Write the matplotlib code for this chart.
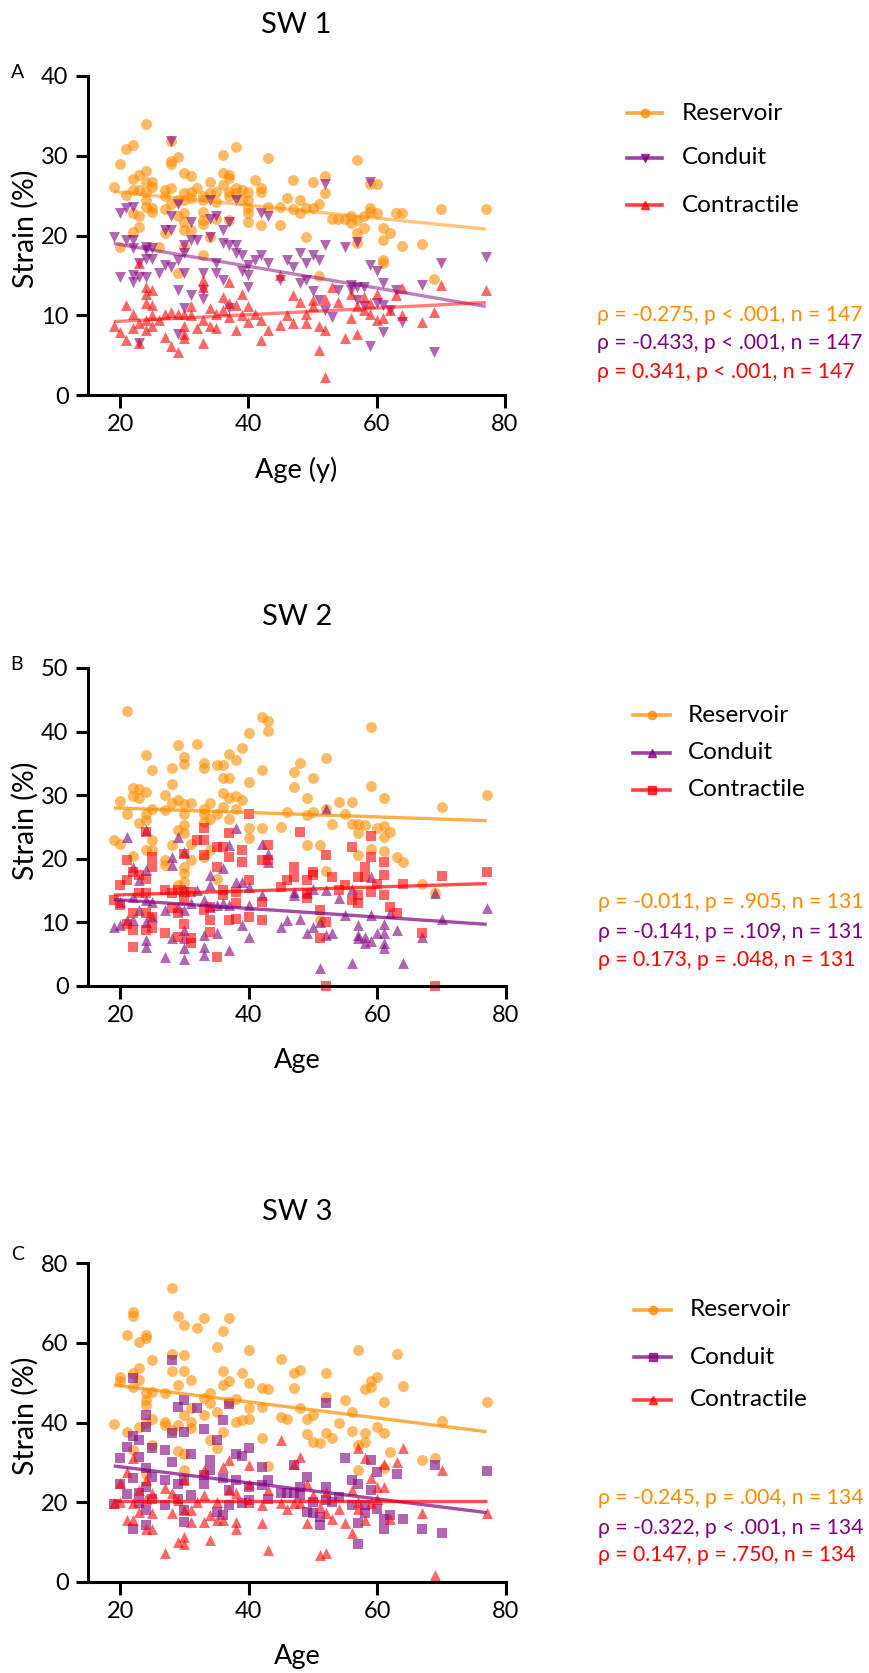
import numpy as np
import matplotlib
matplotlib.use("Agg")
import matplotlib.pyplot as plt
from matplotlib.lines import Line2D

plt.rcParams["font.family"] = ["Lato", "DejaVu Sans"]

# ---------------------------------------------------------------------------
# Data: (age, strain %) pairs per strain component and per sweep
# ---------------------------------------------------------------------------
sw1_reservoir = [
    (19, 26.1), (20, 29.0), (20, 18.6), (21, 30.9), (21, 25.1), (22, 31.3), (22, 27.1), (22, 25.7),
    (22, 22.8), (22, 20.4), (23, 27.6), (23, 25.7), (23, 22.4), (23, 21.1), (24, 34.0), (24, 28.1),
    (24, 26.7), (24, 25.5), (24, 24.4), (24, 23.6), (25, 26.7), (25, 26.1), (25, 23.4), (25, 23.0),
    (26, 18.5), (27, 25.7), (27, 24.9), (27, 23.3), (27, 20.3), (28, 31.8), (28, 29.3), (28, 29.0),
    (28, 26.0), (28, 24.0), (29, 29.9), (29, 24.4), (29, 22.4), (29, 15.3), (30, 27.8), (30, 25.3),
    (30, 24.4), (30, 22.8), (30, 21.7), (30, 20.7), (30, 18.6), (31, 27.4), (31, 25.5), (31, 24.7),
    (31, 20.7), (32, 25.9), (33, 24.9), (33, 24.4), (33, 23.0), (33, 21.9), (33, 21.5), (33, 17.6),
    (34, 26.7), (34, 25.3), (34, 19.8), (35, 25.5), (35, 24.2), (35, 22.1), (36, 30.1), (36, 27.8),
    (36, 26.3), (37, 27.6), (37, 27.2), (37, 25.5), (37, 24.9), (37, 21.9), (38, 31.1), (38, 25.9),
    (38, 25.3), (39, 25.7), (39, 24.4), (40, 25.5), (40, 24.4), (40, 23.4), (40, 22.8), (40, 21.7),
    (41, 27.0), (42, 25.9), (42, 25.5), (42, 21.3), (43, 29.7), (43, 23.6), (45, 23.6), (45, 21.3),
    (46, 24.7), (47, 27.0), (47, 23.3), (48, 24.4), (48, 22.8), (49, 23.4), (49, 19.8), (50, 26.7),
    (50, 23.4), (51, 23.9), (51, 14.9), (52, 27.4), (52, 25.3), (53, 22.1), (54, 22.1), (55, 22.1),
    (56, 22.4), (56, 21.6), (57, 29.5), (57, 21.9), (57, 20.3), (57, 19.0), (58, 22.4), (58, 20.9),
    (59, 26.5), (59, 23.4), (59, 23.0), (60, 26.4), (60, 22.8), (61, 20.9), (61, 19.4), (61, 16.9),
    (61, 16.5), (62, 20.3), (63, 22.8), (64, 22.8), (64, 18.7), (67, 18.9), (69, 14.5), (70, 23.3),
    (77, 23.3),
]
sw1_conduit = [
    (19, 19.8), (20, 22.8), (20, 14.8), (21, 23.4), (21, 19.4), (22, 23.6), (22, 19.4), (22, 18.4),
    (22, 15.0), (22, 14.2), (23, 16.5), (23, 14.8), (23, 6.5), (24, 18.6), (24, 18.2), (24, 14.8),
    (24, 17.1), (25, 18.4), (25, 17.1), (26, 15.3), (27, 20.7), (27, 16.3), (28, 31.8), (28, 22.4),
    (28, 20.7), (28, 16.1), (29, 24.0), (29, 16.9), (29, 13.2), (29, 7.7), (30, 18.8), (30, 17.8),
    (30, 15.3), (30, 10.9), (31, 21.7), (31, 19.4), (31, 12.5), (32, 19.4), (33, 15.3), (33, 13.2),
    (33, 12.1), (34, 24.4), (34, 22.1), (34, 19.8), (35, 22.4), (35, 16.5), (35, 15.3), (36, 20.7),
    (36, 19.0), (36, 14.4), (37, 21.7), (37, 18.8), (37, 10.9), (38, 24.4), (38, 18.8), (38, 17.8),
    (39, 17.6), (39, 15.5), (40, 16.3), (40, 15.0), (40, 13.6), (41, 16.9), (42, 22.8), (42, 17.6),
    (43, 22.4), (43, 16.5), (45, 14.4), (46, 16.9), (47, 16.1), (48, 14.0), (48, 17.8), (49, 16.5),
    (49, 14.4), (50, 17.6), (50, 13.0), (51, 16.9), (51, 11.9), (52, 26.5), (52, 18.8), (52, 10.7),
    (53, 9.8), (54, 13.2), (55, 18.6), (56, 13.8), (56, 13.2), (57, 19.2), (57, 13.6), (57, 11.9),
    (58, 13.6), (58, 11.1), (59, 26.7), (59, 16.3), (59, 6.1), (60, 15.5), (60, 11.5), (61, 14.0),
    (61, 7.9), (61, 11.3), (62, 10.7), (63, 13.2), (64, 9.2), (67, 13.8), (69, 5.4), (70, 16.5),
    (77, 17.3),
]
sw1_contractile = [
    (19, 8.6), (20, 7.9), (21, 11.3), (21, 6.9), (22, 10.2), (22, 8.4), (23, 16.5), (23, 9.0),
    (23, 6.5), (24, 13.6), (24, 12.7), (24, 11.5), (24, 9.4), (24, 8.1), (25, 13.2), (25, 11.3),
    (25, 10.0), (25, 8.6), (26, 9.4), (27, 10.2), (27, 7.3), (28, 10.4), (28, 6.1), (29, 10.2),
    (29, 5.4), (30, 10.2), (30, 8.6), (30, 7.7), (30, 7.1), (31, 11.1), (31, 10.0), (32, 8.4),
    (33, 14.4), (33, 13.6), (33, 9.4), (33, 6.5), (34, 10.9), (34, 8.6), (35, 10.2), (35, 8.4),
    (36, 12.3), (36, 10.7), (37, 14.2), (37, 11.5), (37, 9.8), (38, 8.1), (38, 11.3), (39, 12.7),
    (39, 10.0), (40, 11.1), (40, 9.2), (41, 10.2), (42, 9.4), (42, 6.9), (43, 8.1), (45, 8.8),
    (45, 15.0), (46, 10.0), (47, 12.5), (47, 9.0), (48, 11.7), (49, 10.2), (49, 9.0), (50, 11.9),
    (50, 11.1), (51, 8.6), (51, 5.6), (52, 12.1), (52, 8.1), (52, 2.3), (53, 13.6), (54, 11.7),
    (55, 7.1), (56, 9.6), (56, 12.7), (57, 11.1), (57, 7.7), (58, 12.3), (58, 10.7), (59, 11.5),
    (59, 10.2), (60, 9.4), (60, 12.7), (61, 9.6), (62, 10.7), (63, 12.5), (64, 13.4), (64, 10.0),
    (67, 9.2), (69, 10.4), (70, 13.8), (77, 13.2),
]

sw2_reservoir = [
    (19, 22.9), (20, 29.1), (20, 22.3), (21, 43.2), (21, 27.1), (22, 31.2), (22, 29.8), (22, 20.4),
    (23, 30.9), (23, 29.6), (23, 25.7), (24, 36.3), (24, 30.5), (24, 27.1), (24, 26.1), (24, 21.4),
    (25, 33.9), (25, 27.9), (25, 22.9), (25, 21.4), (27, 30.0), (27, 27.6), (27, 19.8), (27, 19.0),
    (28, 34.2), (28, 31.8), (28, 28.8), (28, 22.1), (29, 37.9), (29, 29.3), (29, 24.5), (29, 15.9),
    (30, 36.0), (30, 34.9), (30, 28.6), (30, 27.1), (30, 25.3), (30, 24.0), (30, 18.7), (30, 17.7),
    (30, 16.4), (31, 28.7), (31, 22.4), (31, 19.8), (32, 38.1), (33, 35.1), (33, 34.2), (33, 27.9),
    (33, 27.1), (33, 25.8), (33, 20.3), (34, 28.7), (34, 26.3), (34, 21.4), (35, 34.7), (35, 27.1),
    (35, 16.8), (36, 34.7), (36, 32.7), (36, 30.3), (36, 28.2), (37, 36.4), (37, 32.7), (37, 29.5),
    (37, 26.2), (38, 35.5), (38, 29.8), (38, 27.9), (39, 37.5), (39, 29.2), (40, 39.8), (40, 32.0),
    (40, 24.8), (40, 23.3), (42, 42.3), (42, 33.9), (42, 24.8), (43, 41.6), (43, 40.1), (45, 25.0),
    (46, 27.3), (47, 33.6), (47, 31.3), (48, 35.1), (49, 29.5), (49, 26.9), (49, 22.1), (50, 32.7),
    (50, 27.4), (51, 22.1), (51, 10.3), (52, 35.8), (52, 27.9), (52, 18.1), (53, 25.4), (54, 29.0),
    (55, 27.1), (56, 29.0), (56, 25.5), (57, 25.5), (57, 24.0), (57, 20.6), (58, 25.3), (59, 40.8),
    (59, 31.4), (59, 21.6), (60, 24.8), (61, 29.5), (61, 25.1), (61, 23.5), (61, 21.3), (62, 24.2),
    (63, 20.3), (64, 19.5), (67, 16.0), (69, 14.6), (70, 28.1), (77, 30.1),
]
sw2_conduit = [
    (19, 9.3), (20, 13.2), (20, 9.6), (21, 23.4), (21, 10.4), (22, 18.7), (22, 14.0), (22, 10.4),
    (23, 16.6), (23, 11.9), (24, 24.5), (24, 18.2), (24, 13.5), (24, 10.1), (24, 7.2), (24, 6.2),
    (25, 13.2), (25, 10.9), (27, 11.9), (27, 4.6), (28, 20.3), (28, 19.0), (28, 7.5), (29, 23.5),
    (29, 12.5), (30, 21.1), (30, 15.3), (30, 11.9), (30, 8.8), (30, 7.5), (30, 5.9), (30, 4.3),
    (31, 13.0), (32, 15.1), (33, 13.5), (33, 8.0), (33, 6.2), (33, 4.9), (34, 17.4), (34, 15.9),
    (34, 12.5), (35, 12.7), (35, 8.3), (36, 18.5), (36, 13.0), (37, 22.1), (37, 12.7), (37, 5.7),
    (38, 24.8), (38, 16.4), (39, 16.4), (39, 9.6), (40, 15.6), (40, 12.7), (40, 7.7), (42, 22.4),
    (42, 14.3), (43, 20.8), (43, 19.5), (45, 9.3), (46, 10.4), (47, 14.8), (47, 14.3), (48, 10.6),
    (49, 14.6), (49, 8.3), (50, 15.3), (50, 9.3), (51, 10.1), (51, 2.8), (52, 27.9), (52, 15.1),
    (52, 8.0), (53, 8.3), (54, 13.8), (55, 11.2), (56, 15.3), (56, 3.6), (57, 9.6), (57, 8.0),
    (57, 7.5), (58, 7.7), (58, 6.7), (59, 17.2), (59, 11.2), (59, 7.0), (60, 8.3), (61, 9.8),
    (61, 8.3), (61, 6.7), (61, 5.9), (62, 11.4), (63, 8.8), (64, 3.6), (67, 7.7), (69, 14.6),
    (70, 10.6), (77, 12.2),
]
sw2_contractile = [
    (19, 13.5), (20, 15.9), (20, 12.7), (21, 19.8), (21, 16.6), (21, 9.8), (22, 18.0), (22, 11.4),
    (22, 8.8), (22, 6.2), (23, 17.4), (23, 14.6), (24, 24.2), (24, 16.9), (24, 14.6), (24, 11.4),
    (24, 8.8), (25, 20.3), (25, 18.7), (25, 10.9), (25, 9.1), (27, 15.1), (27, 8.3), (28, 14.6),
    (28, 12.2), (29, 15.1), (29, 11.4), (29, 7.7), (30, 20.8), (30, 14.8), (30, 13.5), (30, 9.8),
    (31, 14.8), (31, 7.5), (31, 6.7), (32, 22.9), (33, 24.8), (33, 22.9), (33, 20.6), (33, 11.9),
    (34, 12.5), (34, 10.4), (34, 8.5), (35, 21.9), (35, 18.7), (35, 4.6), (36, 21.9), (36, 15.1),
    (36, 14.3), (37, 24.0), (37, 20.3), (37, 10.4), (38, 14.8), (38, 13.0), (38, 10.6), (39, 21.4),
    (39, 19.5), (40, 27.1), (40, 16.6), (40, 10.9), (42, 19.8), (42, 13.2), (42, 10.4), (43, 22.1),
    (43, 19.8), (45, 15.6), (46, 16.6), (47, 18.7), (47, 17.2), (48, 24.2), (49, 16.6), (49, 14.6),
    (49, 13.8), (50, 18.0), (50, 17.4), (51, 11.9), (51, 7.5), (52, 20.6), (52, 10.1), (52, 0.0),
    (53, 17.2), (54, 15.1), (55, 15.9), (56, 21.9), (56, 13.5), (57, 17.2), (57, 14.3), (57, 13.0),
    (58, 18.7), (58, 17.2), (59, 23.6), (59, 20.3), (59, 14.8), (60, 16.1), (61, 19.5), (61, 17.4),
    (61, 14.3), (62, 12.5), (63, 11.4), (64, 16.0), (67, 8.3), (69, 0.0), (70, 17.3), (77, 17.9),
]

sw3_reservoir = [
    (19, 39.6), (20, 51.5), (20, 50.3), (21, 62.0), (21, 37.7), (22, 67.8), (22, 66.8), (22, 52.3),
    (22, 49.0), (22, 33.1), (23, 60.1), (23, 53.6), (23, 50.7), (23, 38.9), (24, 62.0), (24, 61.1),
    (24, 47.3), (24, 45.6), (24, 44.4), (24, 39.8), (24, 27.2), (25, 55.7), (25, 47.7), (25, 41.0),
    (25, 34.3), (27, 47.3), (27, 40.2), (27, 39.4), (28, 73.7), (28, 57.2), (28, 52.8), (28, 38.1),
    (29, 66.6), (29, 49.4), (29, 39.4), (29, 32.9), (30, 64.5), (30, 57.0), (30, 53.0), (30, 41.9),
    (30, 32.2), (30, 28.1), (31, 50.7), (31, 43.6), (31, 40.2), (31, 38.5), (32, 63.7), (33, 66.2),
    (33, 46.1), (33, 41.9), (34, 47.3), (34, 44.8), (34, 35.6), (35, 59.0), (35, 42.7), (35, 33.5),
    (36, 63.0), (36, 52.8), (36, 49.4), (36, 37.7), (37, 66.2), (37, 50.3), (37, 45.2), (38, 45.8),
    (38, 40.2), (39, 52.3), (39, 40.6), (40, 58.2), (40, 50.0), (40, 43.6), (40, 41.0), (42, 48.6),
    (42, 44.0), (42, 36.0), (43, 48.3), (43, 29.1), (45, 55.9), (45, 41.5), (46, 41.0), (47, 52.3),
    (47, 48.6), (48, 53.2), (48, 43.6), (49, 41.0), (49, 37.0), (50, 41.9), (50, 35.2), (51, 34.9),
    (52, 52.5), (52, 46.5), (52, 37.4), (53, 36.0), (54, 39.8), (55, 45.6), (56, 42.7), (56, 37.9),
    (57, 58.2), (57, 34.3), (57, 28.1), (58, 48.3), (58, 37.3), (58, 35.2), (59, 50.3), (59, 49.0),
    (60, 51.5), (60, 38.9), (61, 45.2), (61, 37.3), (61, 28.5), (62, 32.7), (63, 57.2), (64, 49.2),
    (67, 30.6), (69, 31.0), (70, 40.5), (77, 45.2),
]
sw3_conduit = [
    (19, 19.5), (20, 24.7), (20, 31.0), (21, 33.9), (21, 22.0), (22, 51.1), (22, 36.6), (22, 26.0),
    (22, 13.4), (23, 35.6), (23, 31.4), (23, 22.2), (23, 19.7), (24, 41.9), (24, 38.9), (24, 28.5),
    (24, 23.9), (24, 18.0), (24, 14.2), (25, 33.5), (25, 26.4), (25, 20.9), (27, 33.1), (27, 25.5),
    (27, 19.3), (28, 55.7), (28, 37.3), (28, 30.2), (29, 44.0), (29, 24.7), (29, 20.9), (30, 45.6),
    (30, 37.7), (30, 25.5), (30, 18.0), (30, 15.1), (31, 32.2), (31, 21.8), (32, 43.6), (33, 38.3),
    (33, 26.8), (33, 24.7), (34, 30.6), (34, 28.1), (35, 35.6), (35, 17.6), (36, 40.6), (36, 26.0),
    (36, 16.8), (37, 44.6), (37, 23.0), (37, 19.3), (38, 32.2), (38, 25.5), (39, 31.6), (39, 19.7),
    (40, 33.5), (40, 23.9), (40, 20.5), (42, 28.9), (42, 24.3), (43, 25.5), (43, 20.9), (45, 22.2),
    (46, 22.2), (47, 29.3), (47, 22.2), (48, 23.9), (48, 21.8), (49, 26.4), (49, 17.6), (50, 20.1),
    (50, 17.2), (51, 16.3), (51, 14.2), (52, 44.8), (52, 23.9), (52, 20.5), (53, 20.1), (54, 21.4),
    (55, 31.2), (56, 25.5), (56, 19.3), (57, 24.7), (57, 14.7), (57, 9.6), (58, 19.3), (58, 17.2),
    (59, 30.6), (59, 23.0), (60, 27.6), (60, 18.4), (61, 15.9), (61, 13.4), (62, 16.8), (63, 27.2),
    (64, 15.7), (67, 13.4), (69, 29.3), (70, 12.3), (77, 27.9),
]
sw3_contractile = [
    (19, 19.8), (20, 24.9), (20, 20.1), (21, 27.6), (21, 15.5), (22, 31.0), (22, 19.7), (22, 15.5),
    (23, 23.0), (23, 17.6), (24, 25.5), (24, 20.9), (24, 13.4), (25, 22.2), (25, 17.2), (25, 13.4),
    (27, 23.5), (27, 7.3), (28, 22.2), (28, 17.2), (29, 20.5), (29, 10.1), (30, 25.5), (30, 18.0),
    (30, 11.3), (30, 9.6), (31, 18.0), (31, 15.1), (32, 20.1), (33, 28.1), (33, 21.8), (33, 15.1),
    (34, 16.8), (34, 10.5), (35, 20.1), (35, 15.5), (36, 28.9), (36, 15.5), (37, 30.6), (37, 23.0),
    (38, 22.2), (38, 15.1), (38, 13.4), (40, 29.3), (40, 24.7), (40, 20.1), (42, 19.3), (42, 14.7),
    (43, 23.0), (43, 8.0), (45, 35.6), (45, 19.7), (46, 18.4), (47, 29.7), (47, 19.7), (48, 31.4),
    (48, 19.7), (49, 24.7), (49, 14.7), (50, 21.8), (51, 18.8), (51, 6.7), (52, 22.6), (52, 17.2),
    (52, 7.3), (53, 15.9), (54, 18.4), (55, 14.7), (56, 23.0), (56, 12.3), (57, 33.5), (57, 20.1),
    (57, 18.4), (58, 31.0), (58, 15.5), (59, 26.0), (59, 19.7), (60, 23.9), (60, 20.9), (61, 29.7),
    (61, 23.9), (62, 15.7), (63, 30.2), (64, 33.5), (67, 17.2), (69, 1.7), (70, 28.1), (77, 17.2),
]

# Fitted regression lines: strain at age 19 and at age 77
fit_ages = [19, 77]
sw1_fits = {"Reservoir": [25.5, 20.8], "Conduit": [19.0, 11.1], "Contractile": [9.2, 11.6]}
sw2_fits = {"Reservoir": [28.0, 26.0], "Conduit": [13.6, 9.7], "Contractile": [14.3, 16.1]}
sw3_fits = {"Reservoir": [49.4, 37.7], "Conduit": [29.1, 17.4], "Contractile": [20.3, 20.3]}

sw1_stats = ["ρ = -0.275, p < .001, n = 147",
             "ρ = -0.433, p < .001, n = 147",
             "ρ = 0.341, p < .001, n = 147"]
sw2_stats = ["ρ = -0.011, p = .905, n = 131",
             "ρ = -0.141, p = .109, n = 131",
             "ρ = 0.173, p = .048, n = 131"]
sw3_stats = ["ρ = -0.245, p = .004, n = 134",
             "ρ = -0.322, p < .001, n = 134",
             "ρ = 0.147, p = .750, n = 134"]

components = ["Reservoir", "Conduit", "Contractile"]
x_ticks = [20, 40, 60, 80]

# ---------------------------------------------------------------------------
# Figure layout (pixel coordinates)
# ---------------------------------------------------------------------------
W, H = 869, 1673
fig = plt.figure(figsize=(W / 100, H / 100), dpi=100)


def fx(px):
    return px / W


def fy(py):
    return 1 - py / H


ORANGE = "#FF8C00"
PURPLE = "#800080"
RED = "#FF0000"
COLORS = [ORANGE, PURPLE, RED]

panels = [
    dict(box=(88, 76, 505, 395), ymax=40, yticks=[0, 10, 20, 30, 40], title="SW 1", letter="A",
         letter_xy=(18, 72), xlabel="Age (y)",
         data=[sw1_reservoir, sw1_conduit, sw1_contractile], markers=["o", "v", "^"],
         fits=sw1_fits, line_alpha=0.5, stats=sw1_stats,
         leg_x=(627, 662, 682), leg_rows=[113, 158, 205], stat_x=597, stat_rows=[315, 343, 372]),
    dict(box=(88, 668, 506, 986), ymax=50, yticks=[0, 10, 20, 30, 40, 50], title="SW 2", letter="B",
         letter_xy=(16, 665), xlabel="Age",
         data=[sw2_reservoir, sw2_conduit, sw2_contractile], markers=["o", "^", "s"],
         fits=sw2_fits, line_alpha=0.7, stats=sw2_stats,
         leg_x=(633, 670, 688), leg_rows=[715, 753, 790], stat_x=598, stat_rows=[902, 932, 960]),
    dict(box=(88, 1263, 506, 1582), ymax=80, yticks=[0, 20, 40, 60, 80], title="SW 3", letter="C",
         letter_xy=(18, 1255), xlabel="Age",
         data=[sw3_reservoir, sw3_conduit, sw3_contractile], markers=["o", "s", "^"],
         fits=sw3_fits, line_alpha=0.7, stats=sw3_stats,
         leg_x=(634, 671, 690), leg_rows=[1310, 1357, 1400], stat_x=598, stat_rows=[1498, 1528, 1555]),
]

MARKER_SIZE = {"o": 62, "v": 62, "^": 62, "s": 52}

for p in panels:
    left, top, right, bottom = p["box"]
    ax = fig.add_axes([fx(left), fy(bottom), (right - left) / W, (bottom - top) / H])
    ax.set_xlim(15, 80)
    ax.set_ylim(0, p["ymax"])
    ax.set_xticks(x_ticks)
    ax.set_yticks(p["yticks"])
    for side in ("top", "right"):
        ax.spines[side].set_visible(False)
    for side in ("left", "bottom"):
        ax.spines[side].set_linewidth(2.2)
    ax.tick_params(width=2.2, length=9, labelsize=17, pad=5)

    for pts, marker, color in zip(p["data"], p["markers"], COLORS):
        arr = np.array(pts, dtype=float)
        ax.scatter(arr[:, 0], arr[:, 1], s=MARKER_SIZE[marker], marker=marker, color=color,
                   alpha=0.6, linewidths=0, zorder=2, clip_on=False)
    for name, color in zip(components, COLORS):
        ax.plot(fit_ages, p["fits"][name], color=color, alpha=p["line_alpha"], lw=2.4,
                solid_capstyle="butt", zorder=3)

    # Axis titles placed at fixed pixel offsets from the spines
    ax.set_ylabel("Strain (%)", fontsize=20.5)
    ax.yaxis.set_label_coords((39 - left) / (right - left), 0.52)
    ax.set_xlabel(p["xlabel"], fontsize=19.5)
    ax.xaxis.set_label_coords(0.5, -62 / (bottom - top))

    fig.text(fx((left + right) / 2), fy(top - 51), p["title"], fontsize=21,
             ha="center", va="center")
    fig.text(fx(p["letter_xy"][0]), fy(p["letter_xy"][1]), p["letter"], fontsize=14,
             ha="center", va="center")

    # Legend drawn as figure artists to the right of the axes
    x0, x1, tx = p["leg_x"]
    for name, marker, color, row in zip(components, p["markers"], COLORS, p["leg_rows"]):
        yy = fy(row)
        fig.add_artist(Line2D([fx(x0), fx(x1)], [yy, yy], transform=fig.transFigure,
                              color=color, alpha=0.75, lw=2.6))
        fig.add_artist(Line2D([fx((x0 + x1) / 2)], [yy], transform=fig.transFigure,
                              marker=marker, ms=6, color=color, alpha=0.75, ls="none"))
        fig.text(fx(tx), yy, name, fontsize=17.5, ha="left", va="center")

    for s, color, row in zip(p["stats"], COLORS, p["stat_rows"]):
        fig.text(fx(p["stat_x"]), fy(row), s, fontsize=15.2, color=color, ha="left", va="center")

fig.savefig("out.png", dpi=100)
